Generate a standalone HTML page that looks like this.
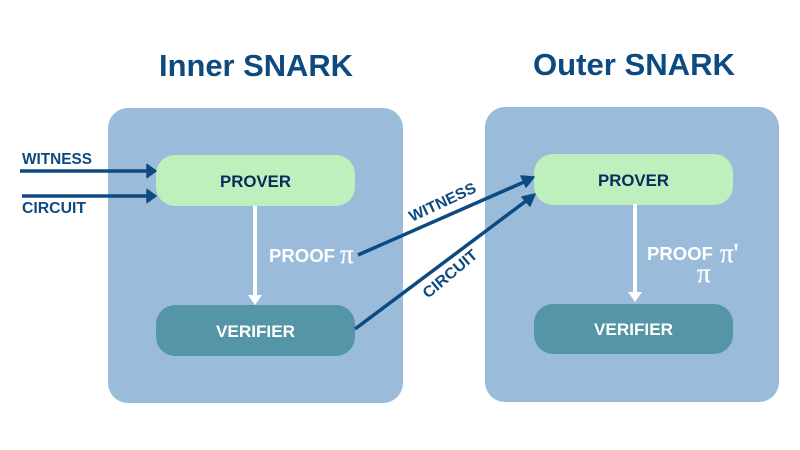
<!DOCTYPE html>
<html>
<head>
<meta charset="utf-8">
<style>
html,body{margin:0;padding:0;background:#fff;width:800px;height:450px;overflow:hidden}
svg{display:block}
text{font-family:"Liberation Sans",sans-serif;font-weight:700}
.pi{font-family:"Liberation Serif",serif;font-weight:400;stroke:#fff;stroke-width:.3px}
</style>
</head>
<body>
<svg width="800" height="450" viewBox="0 0 800 450" xmlns="http://www.w3.org/2000/svg">
<rect width="800" height="450" fill="#fff"/>
<text x="256" y="76" font-size="31" fill="#0d4a80" text-anchor="middle" textLength="194" lengthAdjust="spacingAndGlyphs">Inner SNARK</text>
<text x="634" y="75" font-size="31" fill="#0d4a80" text-anchor="middle" textLength="202" lengthAdjust="spacingAndGlyphs">Outer SNARK</text>

<rect x="108" y="108" width="295" height="295" rx="20" fill="#9abbda"/>
<rect x="485" y="107" width="294" height="295" rx="20" fill="#9abbda"/>

<rect x="156" y="155" width="199" height="51" rx="19" fill="#bdf0bd"/>
<rect x="156" y="305" width="199" height="51" rx="19" fill="#5496a8"/>
<rect x="534" y="154" width="199" height="51" rx="19" fill="#bdf0bd"/>
<rect x="534" y="304" width="199" height="50" rx="19" fill="#5496a8"/>

<text x="255.500" y="187" font-size="16.500" fill="#0a2a5e" text-anchor="middle" textLength="71" lengthAdjust="spacingAndGlyphs">PROVER</text>
<text x="255.500" y="337" font-size="16.500" fill="#fff" text-anchor="middle" textLength="79" lengthAdjust="spacingAndGlyphs">VERIFIER</text>
<text x="633.500" y="186" font-size="16.500" fill="#0a2a5e" text-anchor="middle" textLength="71" lengthAdjust="spacingAndGlyphs">PROVER</text>
<text x="633.500" y="335" font-size="16.500" fill="#fff" text-anchor="middle" textLength="79" lengthAdjust="spacingAndGlyphs">VERIFIER</text>

<g fill="none" stroke="#0d4a80" stroke-width="3.500">
<line x1="20" y1="171" x2="150" y2="171"/>
<line x1="22" y1="196" x2="150" y2="196"/>
<line x1="358" y1="255" x2="524" y2="182"/>
<line x1="355" y1="329" x2="526" y2="201"/>
</g>
<g fill="#0d4a80" stroke="#0d4a80" stroke-width="1.500" stroke-linejoin="round">
<polygon points="156,171 147,164.500 147,177.500"/>
<polygon points="156,196 147,189.500 147,202.500"/>
<polygon points="534,177 521,176 526,187"/>
<polygon points="535,194 522,197 530,206"/>
</g>

<g stroke="#fff" stroke-width="4" fill="none">
<line x1="255" y1="206" x2="255" y2="297"/>
<line x1="635" y1="204" x2="635" y2="294"/>
</g>
<g fill="#fff">
<polygon points="248,295 262,295 255,305"/>
<polygon points="628,292 642,292 635,302"/>
</g>

<text x="22" y="164" font-size="15.500" fill="#0d4a80" textLength="70" lengthAdjust="spacingAndGlyphs">WITNESS</text>
<text x="22" y="213" font-size="15.500" fill="#0d4a80" textLength="64" lengthAdjust="spacingAndGlyphs">CIRCUIT</text>

<text x="269" y="262" font-size="18.500" fill="#fff" textLength="66" lengthAdjust="spacingAndGlyphs">PROOF</text>
<text class="pi" x="340" y="263" font-size="27" fill="#fff">π</text>

<text x="647" y="260" font-size="18.500" fill="#fff" textLength="66" lengthAdjust="spacingAndGlyphs">PROOF</text>
<text class="pi" x="720" y="262" font-size="27" fill="#fff">π'</text>
<text class="pi" x="697" y="282" font-size="27" fill="#fff">π</text>

<text transform="translate(412,222) rotate(-25)" font-size="15.500" fill="#0d4a80" textLength="72" lengthAdjust="spacingAndGlyphs">WITNESS</text>
<text transform="translate(428,299) rotate(-40)" font-size="15.500" fill="#0d4a80" textLength="66" lengthAdjust="spacingAndGlyphs">CIRCUIT</text>
</svg>
</body>
</html>
